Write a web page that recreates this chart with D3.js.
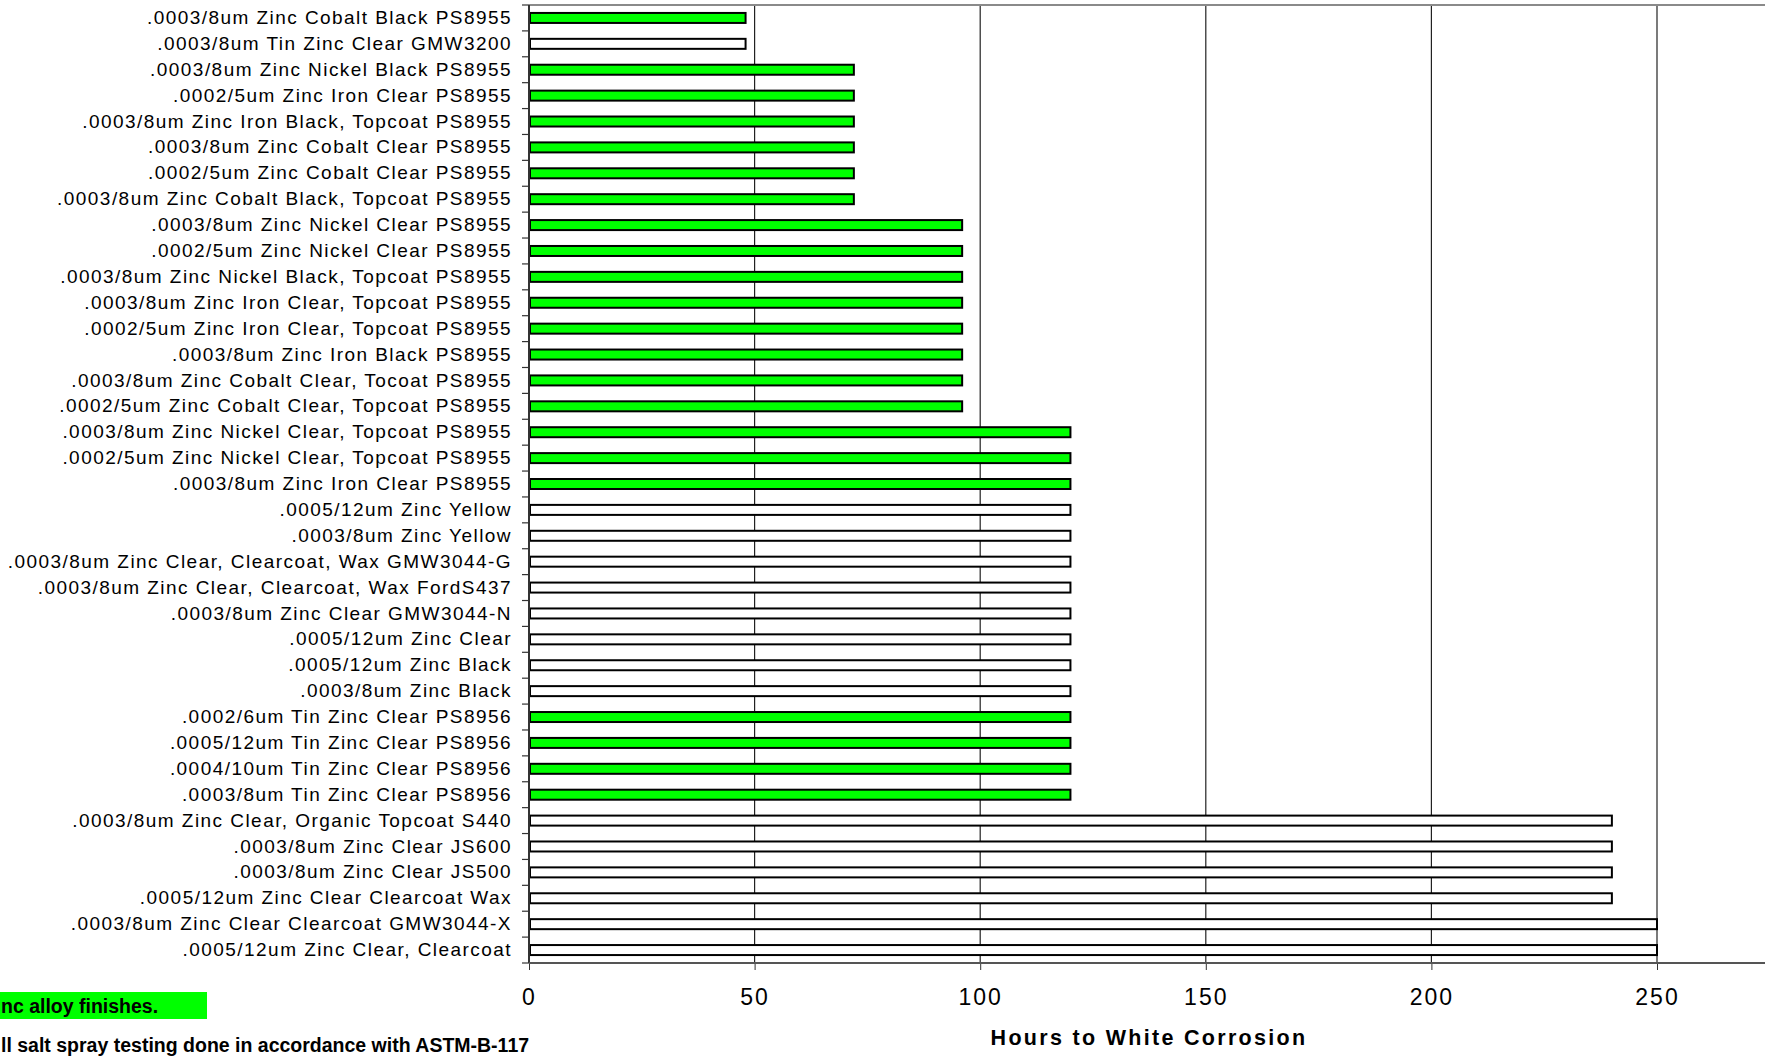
<!DOCTYPE html>
<html>
<head>
<meta charset="utf-8">
<script src="https://cdn.jsdelivr.net/npm/d3@7"></script>
<style>
  body { margin: 0; background: #fff; overflow: hidden; }
  svg { display: block; }
</style>
</head>
<body>
<div id="chart"></div>
<script>
// categories, top to bottom as drawn
var categories = [
    ".0003/8um Zinc Cobalt Black PS8955",
    ".0003/8um Tin Zinc Clear GMW3200",
    ".0003/8um Zinc Nickel Black PS8955",
    ".0002/5um Zinc Iron Clear PS8955",
    ".0003/8um Zinc Iron Black, Topcoat PS8955",
    ".0003/8um Zinc Cobalt Clear PS8955",
    ".0002/5um Zinc Cobalt Clear PS8955",
    ".0003/8um Zinc Cobalt Black, Topcoat PS8955",
    ".0003/8um Zinc Nickel Clear PS8955",
    ".0002/5um Zinc Nickel Clear PS8955",
    ".0003/8um Zinc Nickel Black, Topcoat PS8955",
    ".0003/8um Zinc Iron Clear, Topcoat PS8955",
    ".0002/5um Zinc Iron Clear, Topcoat PS8955",
    ".0003/8um Zinc Iron Black PS8955",
    ".0003/8um Zinc Cobalt Clear, Tocoat PS8955",
    ".0002/5um Zinc Cobalt Clear, Topcoat PS8955",
    ".0003/8um Zinc Nickel Clear, Topcoat PS8955",
    ".0002/5um Zinc Nickel Clear, Topcoat PS8955",
    ".0003/8um Zinc Iron Clear PS8955",
    ".0005/12um Zinc Yellow",
    ".0003/8um Zinc Yellow",
    ".0003/8um Zinc Clear, Clearcoat, Wax GMW3044-G",
    ".0003/8um Zinc Clear, Clearcoat, Wax FordS437",
    ".0003/8um Zinc Clear GMW3044-N",
    ".0005/12um Zinc Clear",
    ".0005/12um Zinc Black",
    ".0003/8um Zinc Black",
    ".0002/6um Tin Zinc Clear PS8956",
    ".0005/12um Tin Zinc Clear PS8956",
    ".0004/10um Tin Zinc Clear PS8956",
    ".0003/8um Tin Zinc Clear PS8956",
    ".0003/8um Zinc Clear, Organic Topcoat S440",
    ".0003/8um Zinc Clear JS600",
    ".0003/8um Zinc Clear JS500",
    ".0005/12um Zinc Clear Clearcoat Wax",
    ".0003/8um Zinc Clear Clearcoat GMW3044-X",
    ".0005/12um Zinc Clear, Clearcoat"
];

// hours to white corrosion
var hours = [
    48, 48, 72, 72, 72, 72, 72, 72,
    96, 96, 96, 96, 96, 96, 96, 96,
    120, 120, 120, 120, 120, 120, 120, 120, 120, 120, 120,
    120, 120, 120, 120,
    240, 240, 240, 240, 250, 250
];

// 1 = zinc alloy finish (green), 0 = plain
var alloy = [
    1, 0, 1, 1, 1, 1, 1, 1,
    1, 1, 1, 1, 1, 1, 1, 1,
    1, 1, 1, 0, 0, 0, 0, 0, 0, 0, 0,
    1, 1, 1, 1,
    0, 0, 0, 0, 0, 0
];

var xTicks = [0, 50, 100, 150, 200, 250];
var xTitle = "Hours to White Corrosion";
var notes = ["nc alloy finishes.", "ll salt spray testing done in accordance with ASTM-B-117"];

var width = 1765;
var height = 1056;
var plotLeft = 529;
var plotTop = 5;
var plotBottom = 963;
var unit = 225.6 / 50; // px per hour

var svg = d3.select("#chart").append("svg")
    .attr("width", width)
    .attr("height", height);

// axis runs on past the right edge of the picture
var x = d3.scaleLinear()
    .domain([0, 300])
    .range([plotLeft, plotLeft + 300 * unit]);

var y = d3.scaleBand()
    .domain(categories)
    .range([plotTop, plotBottom])
    .paddingInner(0)
    .paddingOuter(0);

var barH = 10;

// gridlines
svg.append("g").selectAll("line")
    .data(xTicks.slice(1))
  .enter().append("line")
    .attr("x1", function(d) { return x(d); })
    .attr("x2", function(d) { return x(d); })
    .attr("y1", plotTop)
    .attr("y2", plotBottom)
    .style("stroke", "#222")
    .style("stroke-width", 1.2);

// top border
svg.append("line")
    .attr("x1", plotLeft).attr("x2", width)
    .attr("y1", plotTop).attr("y2", plotTop)
    .style("stroke", "#8a8a8a")
    .style("stroke-width", 2);

// bars
var rows = categories.map(function(c, i) {
    return { name: c, value: hours[i], green: alloy[i] };
});

svg.append("g").selectAll("rect")
    .data(rows)
  .enter().append("rect")
    .attr("x", x(0) + 1)
    .attr("y", function(d) { return y(d.name) + y.bandwidth() / 2 - barH / 2; })
    .attr("width", function(d) { return x(d.value) - x(0) - 1; })
    .attr("height", barH)
    .style("fill", function(d) { return d.green ? "#00ff00" : "#ffffff"; })
    .style("stroke", "#000")
    .style("stroke-width", 2);

// category axis
var yAxis = svg.append("g")
    .attr("transform", "translate(" + plotLeft + ",0)")
    .call(d3.axisLeft(y).tickSize(0).tickPadding(17));
yAxis.select(".domain").remove();
yAxis.selectAll("text")
    .style("font-family", "'Liberation Sans', Arial, sans-serif")
    .style("font-size", "19px")
    .style("letter-spacing", "1.45px")
    .style("fill", "#000");

// category tick marks sit between the bars
var bounds = categories.map(function(c) { return y(c); }).concat([plotBottom]);
svg.append("g").selectAll("line")
    .data(bounds)
  .enter().append("line")
    .attr("x1", plotLeft - 7)
    .attr("x2", plotLeft)
    .attr("y1", function(d) { return d; })
    .attr("y2", function(d) { return d; })
    .style("stroke", "#333")
    .style("stroke-width", 1.2);

// left axis line
svg.append("line")
    .attr("x1", plotLeft).attr("x2", plotLeft)
    .attr("y1", plotTop).attr("y2", plotBottom)
    .style("stroke", "#333")
    .style("stroke-width", 2);

// value axis
var xAxis = svg.append("g")
    .attr("transform", "translate(0," + plotBottom + ")")
    .call(d3.axisBottom(x).tickValues(xTicks).tickSize(7).tickPadding(19));
xAxis.select(".domain").remove();
xAxis.selectAll(".tick line").style("stroke", "#333");
xAxis.selectAll("text")
    .style("font-family", "'Liberation Sans', Arial, sans-serif")
    .style("font-size", "23px")
    .style("letter-spacing", "2px")
    .style("fill", "#000");

svg.append("line")
    .attr("x1", plotLeft).attr("x2", width)
    .attr("y1", plotBottom).attr("y2", plotBottom)
    .style("stroke", "#555")
    .style("stroke-width", 2);

// axis title
svg.append("text")
    .attr("x", 1149)
    .attr("y", 1045)
    .attr("text-anchor", "middle")
    .style("font-family", "'Liberation Sans', Arial, sans-serif")
    .style("font-weight", "bold")
    .style("font-size", "21.5px")
    .style("letter-spacing", "2.3px")
    .text(xTitle);

// notes at the bottom left
svg.append("rect")
    .attr("x", 0).attr("y", 992)
    .attr("width", 207).attr("height", 27)
    .style("fill", "#00ff00");

svg.append("text")
    .attr("x", 1).attr("y", 1013)
    .style("font-family", "'Liberation Sans Narrow', 'Arial Narrow', sans-serif")
    .style("font-weight", "bold")
    .style("font-size", "19.5px")
    .text(notes[0]);

svg.append("text")
    .attr("x", 1).attr("y", 1052)
    .style("font-family", "'Liberation Sans Narrow', 'Arial Narrow', sans-serif")
    .style("font-weight", "bold")
    .style("font-size", "19.5px")
    .text(notes[1]);
</script>
</body>
</html>
